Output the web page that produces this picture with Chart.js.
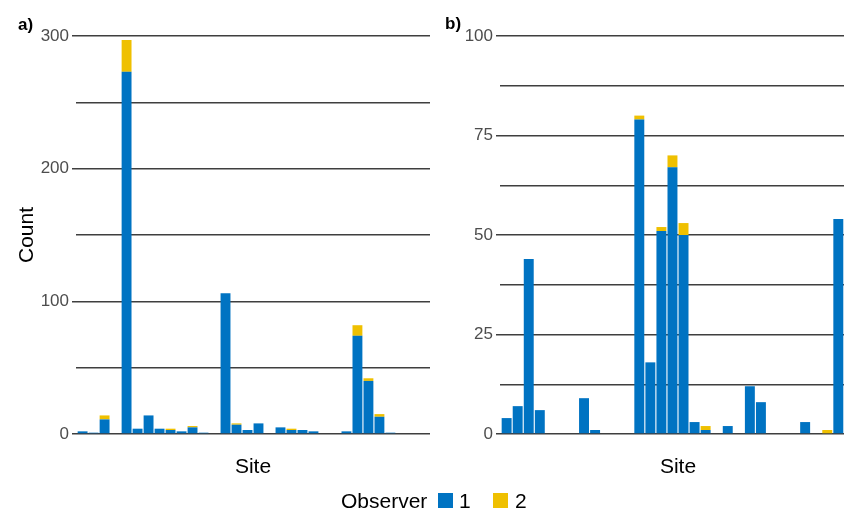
<!DOCTYPE html>
<html>
<head>
<meta charset="utf-8">
<script src="https://cdn.jsdelivr.net/npm/chart.js@4/dist/chart.umd.min.js"></script>
<style>
  html, body { margin: 0; padding: 0; background: #fff; }
  body { position: relative; width: 844px; height: 513px; overflow: hidden;
         font-family: "Liberation Sans", Arial, Helvetica, sans-serif; }
  canvas { position: absolute; top: 0; }
  #chartA { left: 0; }
  #chartB { left: 420px; }
  .tag { position: absolute; font-weight: bold; font-size: 17px; line-height: 17px; color: #000; }
  .leg { position: absolute; font-size: 21px; line-height: 21px; color: #000; white-space: nowrap; }
  .key { position: absolute; width: 15px; height: 15px; }
</style>
</head>
<body>
<canvas id="chartA" width="436" height="513"></canvas>
<canvas id="chartB" width="442" height="513"></canvas>
<div class="tag" style="left:18px;top:16px;">a)</div>
<div class="tag" style="left:445px;top:15px;">b)</div>
<div class="leg" style="left:341px;top:490px;">Observer</div>
<div class="key" id="key1" style="left:438px;top:493px;"></div>
<div class="leg" style="left:459px;top:490px;">1</div>
<div class="key" id="key2" style="left:493px;top:493px;"></div>
<div class="leg" style="left:515px;top:490px;">2</div>
<script>
// Sites along the x axis (one slot each), counts per observer
const sites = ['1','2','3','4','5','6','7','8','9','10','11','12','13','14','15','16',
               '17','18','19','20','21','22','23','24','25','26','27','28','29','30','31','32'];

// Panel a
const observer1A = [2, 1, 11, 0, 273, 4, 14, 4, 3, 2, 5, 1, 0, 106, 7, 3, 8, 0, 5, 3, 3, 2, 0, 0, 2, 74, 40, 13, 1, 0, 0, 0];
const observer2A = [0, 0, 3, 0, 24, 0, 0, 0, 1, 0, 1, 0, 0, 0, 1, 0, 0, 0, 0, 1, 0, 0, 0, 0, 0, 8, 2, 2, 0, 0, 0, 0];
const ticksA = [0, 100, 200, 300];

// Panel b
const observer1B = [4, 7, 44, 6, 0, 0, 0, 9, 1, 0, 0, 0, 79, 18, 51, 67, 50, 3, 1, 0, 2, 0, 12, 8, 0, 0, 0, 3, 0, 0, 54, 0];
const observer2B = [0, 0, 0, 0, 0, 0, 0, 0, 0, 0, 0, 0, 1, 0, 1, 3, 3, 0, 1, 0, 0, 0, 0, 0, 0, 0, 0, 0, 0, 1, 0, 0];
const ticksB = [0, 25, 50, 75, 100];

const observers = ['1', '2'];
const BLUE = '#0073C2';
const YELLOW = '#EFC000';
const GRID = '#3f3f3f';
const FONT = '"Liberation Sans", Arial, Helvetica, sans-serif';

document.getElementById('key1').style.background = BLUE;
document.getElementById('key2').style.background = YELLOW;

function points(values) {
  return values.map((v, i) => ({ x: i, y: v }));
}

function makePanel(canvasId, obs1, obs2, yMax, step, labelled, yWidth, withTitle) {
  const labelledTick = v => labelled.includes(v);
  return new Chart(document.getElementById(canvasId), {
    type: 'bar',
    data: {
      datasets: [
        { label: observers[0], data: points(obs1), backgroundColor: BLUE, borderWidth: 0 },
        { label: observers[1], data: points(obs2), backgroundColor: YELLOW, borderWidth: 0 }
      ]
    },
    options: {
      responsive: false,
      animation: false,
      events: [],
      layout: { padding: { top: 36, right: 6, bottom: 0, left: 0 } },
      datasets: { bar: { barPercentage: 0.9, categoryPercentage: 1.0 } },
      plugins: { legend: { display: false }, tooltip: { enabled: false } },
      scales: {
        x: {
          type: 'linear',
          offset: false,
          stacked: true,
          min: -0.6,
          max: sites.length - 1 + 0.6,
          afterFit: s => { s.height = 79; },
          grid: { display: false, offset: false },
          border: { display: false },
          ticks: { display: false },
          title: { display: true, text: 'Site', color: '#000',
                   font: { family: FONT, size: 21 }, padding: { top: 0, bottom: 33 } }
        },
        y: {
          stacked: true,
          min: 0,
          max: yMax,
          afterFit: s => { s.width = yWidth; },
          border: { display: false },
          grid: {
            color: GRID,
            lineWidth: 1.5,
            drawTicks: true,
            tickLength: 4,
            tickWidth: 1.5,
            tickColor: ctx => (ctx.tick && labelledTick(ctx.tick.value)) ? GRID : 'rgba(0,0,0,0)'
          },
          ticks: {
            stepSize: step,
            padding: 3,
            autoSkip: false,
            color: '#4d4d4d',
            font: { family: FONT, size: 17 },
            callback: v => labelledTick(v) ? String(v) : ''
          },
          title: { display: withTitle, text: 'Count', color: '#000',
                   font: { family: FONT, size: 21 }, padding: { top: 15, bottom: 0 } }
        }
      }
    }
  });
}

makePanel('chartA', observer1A, observer2A, 300, 50, ticksA, 76, true);
makePanel('chartB', observer1B, observer2B, 100, 12.5, ticksB, 80, false);
</script>
</body>
</html>
